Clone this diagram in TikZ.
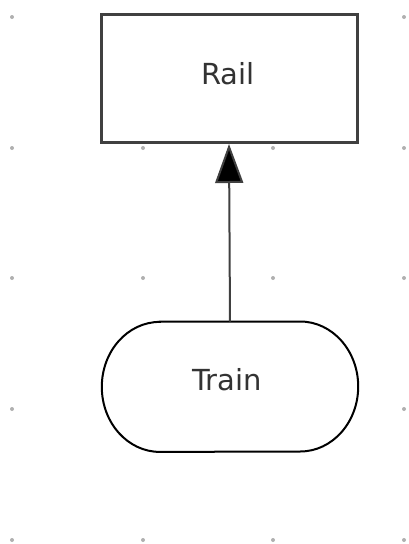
\documentclass[tikz,border=0pt]{standalone}
\usepackage{fontspec}
\setmainfont{DejaVu Sans}
\usetikzlibrary{arrows.meta,calc}
\definecolor{railLine}{HTML}{404040}
\definecolor{labelGrey}{HTML}{333333}
\definecolor{dotGrey}{HTML}{B0B0B0}

\begin{document}
\begin{tikzpicture}[x=1pt, y=-1pt,
  railbox/.style={draw=railLine, line width=3pt, fill=white, inner sep=0pt,
    minimum width=256pt, minimum height=128pt},
  trainbox/.style={inner sep=0pt, minimum width=256pt, minimum height=130pt},
  label/.style={text=labelGrey, font=\fontsize{29}{34}\selectfont, inner sep=0pt},
  uses/.style={-{Triangle[length=39pt, width=28pt, fill=black]},
    draw=railLine, line width=2pt}]

% --- CANVAS ---
\useasboundingbox (0,0) rectangle (408,544);
\def\rx{58}   % end arc x radius
\def\ry{65}   % end arc y radius

% --- GRID DOTS ---
\foreach \gx in {12,143,273,404} {
  \foreach \gy in {17,148,278,409,540} {
    \fill[dotGrey] (\gx,\gy) circle (2);
  }
}

% --- NODES ---
\node[railbox] (rail) at (229,78.5) {};
\node[label] (raillabel) at ($(rail.center)+(-1,-4.5)$) {Rail};
\node[trainbox] (train) at (230,386.7) {};
\fill[white, draw=black, line width=2pt]
  ($(train.north west)+(\rx,0)$) -- ($(train.north east)+(-\rx,0)$)
  arc[start angle=-90, end angle=90, x radius=\rx, y radius=\ry]
  -- ($(train.south west)+(\rx,0)$)
  arc[start angle=90, end angle=270, x radius=\rx, y radius=\ry] -- cycle;
\node[label] (trainlabel) at ($(train.center)+(-3,-7)$) {Train};

% --- CONNECTOR ---
\draw[uses] (train.north) -- (rail.south);

\end{tikzpicture}
\end{document}
